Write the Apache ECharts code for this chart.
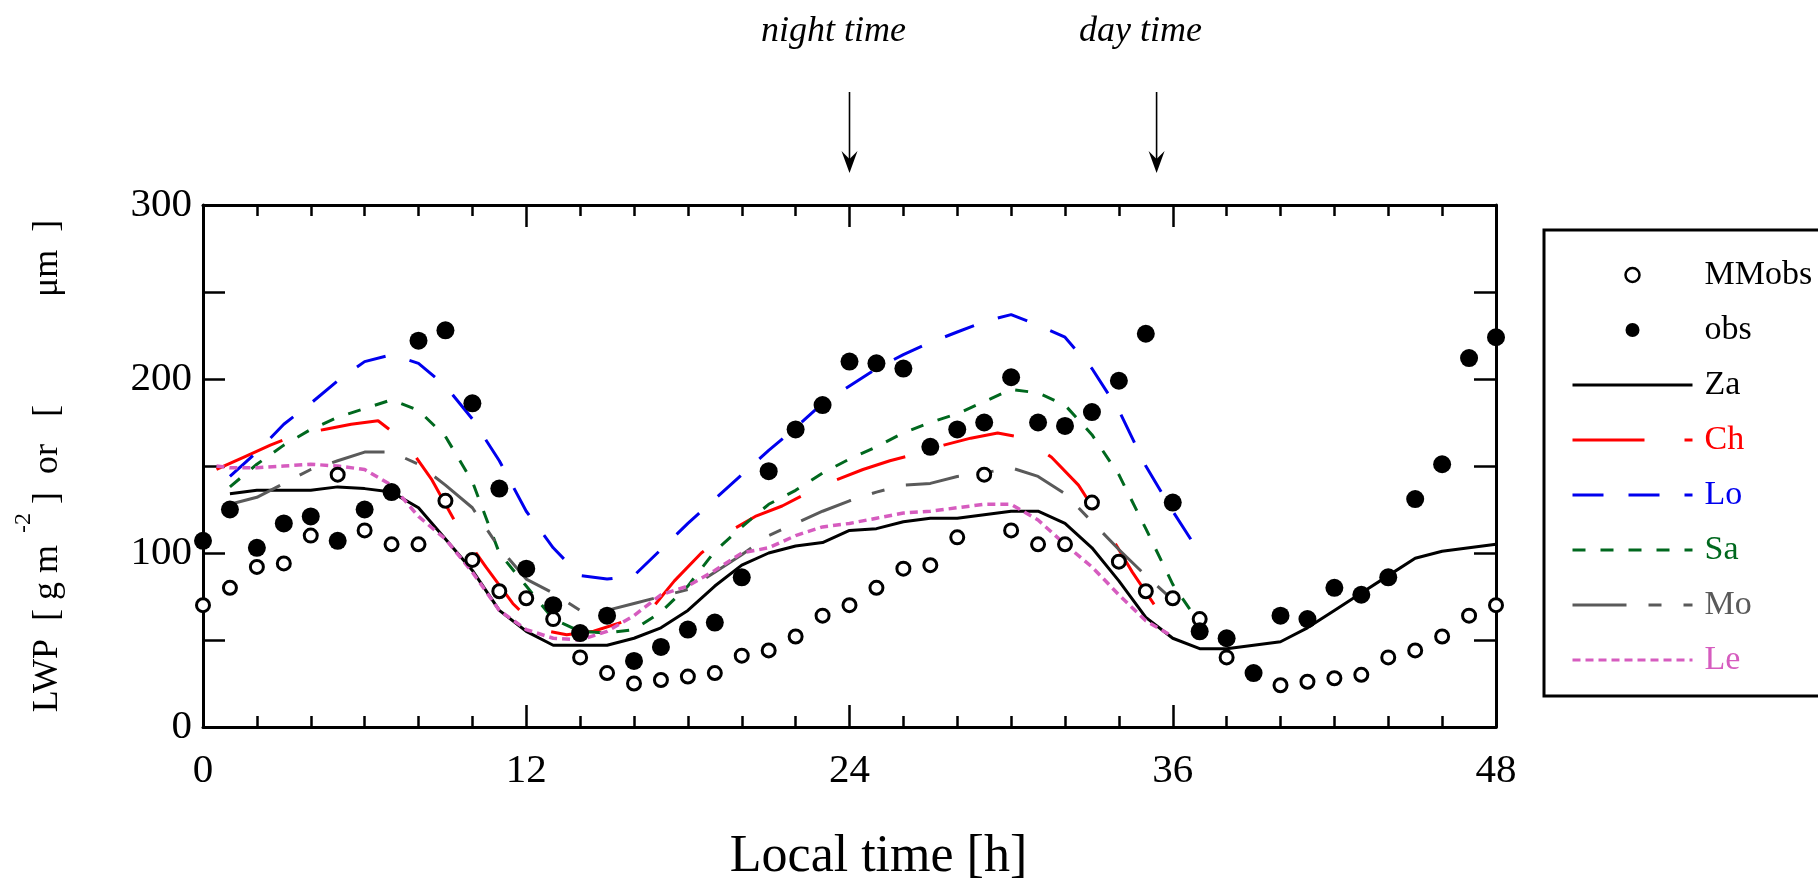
<!DOCTYPE html>
<html>
<head>
<meta charset="utf-8">
<title>LWP diurnal cycle</title>
<script src="https://cdn.jsdelivr.net/npm/echarts@6.0.0/dist/echarts.min.js"></script>
<style>
  html, body { margin: 0; padding: 0; background: #fff; }
  #chart { width: 1818px; height: 881px; }
</style>
</head>
<body>
<div id="chart"></div>
<script>
// observations, one value per hour 0..48
const hours = [0,1,2,3,4,5,6,7,8,9,10,11,12,13,14,15,16,17,18,19,20,21,22,23,24,
  25,26,27,28,29,30,31,32,33,34,35,36,37,38,39,40,41,42,43,44,45,46,47,48]
const mmobs = [70,80,92,94,110,145,113,105,105,130,96,78,74,62,40,31,25,27,29,31,
  41,44,52,64,70,80,91,93,109,145,113,105,105,129,95,78,74,62,40,31,24,26,28,30,40,44,52,64,70]
const obs = [107,125,103,117,121,107,125,135,222,228,186,137,91,70,54,64,38,46,56,60,
  86,147,171,185,210,209,206,161,171,175,201,175,173,181,199,226,129,55,51,31,64,62,80,76,86,131,151,212,224]

// model runs
const zaHours = [1,2,3,4,5,6,7,8,9,10,11,12,13,14,15,16,17,18,19,20,21,22,23,24,
  25,26,27,28,29,30,31,32,33,34,35,36,37,38,39,40,41,42,43,44,45,46,47,48]
const za = [134,136,136,136,138,137,135,126,108,90,67,55,47,47,47,51,57,67,81,93,
  100,104,106,113,114,118,120,120,122,124,124,117,103,84,63,51,45,45,47,49,57,67,77,87,97,101,103,105]

const chHours = [0.5,1.5,2.5,3.5,4.5,5.5,6.5,7.5,8.5,9.5,10.5,11.5,12.5,13.5,14.5,15.5,16.5,17.5,
  18.5,19.5,20.5,21.5,22.5,23.5,24.5,25.5,26.5,27.5,28.5,29.5,30.5,31.5,32.5,33.5,34.5,35.5]
const ch = [148,155,162,168,171,174,176,164,142,114,92,71,56,53,55,60,65,84,
  100,112,121,127,135,142,148,153,157,162,166,169,166,155,139,115,89,66]

const loHours = [1,2,3,4,5,6,7,8,9,10,11,12,13,14,15,16,17,18,19,20,21,22,23,24,
  25,26,27,28,29,30,31,32,33,34,35,36,37]
const lo = [144,158,174,186,199,210,214,209,196,177,153,124,103,87,85,87,102,117,131,145,
  159,172,186,196,206,214,221,227,233,237,231,224,206,182,150,124,100]

const saHours = [1,2,3,4,5,6,7,8,9,10,11,12,13,14,15,16,17,18,19,20,21,22,23,24,
  25,26,27,28,29,30,31,32,33,34,35,36,36.8]
const sa = [138,151,162,171,178,183,188,182,167,141,100,81,62,55,54,56,66,81,101,115,
  128,136,146,154,161,169,175,180,187,194,192,185,168,145,114,82,64]

const moHours = [1,2,3,4,5,6,7,8,9,10,11,12,13,14,15,16,17,18,19,20,21,22,23,24,
  25,26,27,28,29,30,31,32,33,34,35,36]
const mo = [128,132,140,148,153,158,158,151,139,126,103,85,77,67,67,71,75,79,89,99,
  110,117,124,130,135,139,140,144,146,149,144,134,118,102,87,73]

const leHours = [0.5,1,2,3,4,5,6,7,8,9,10,11,12,13,14,15,16,17,18,19,20,21,22,23,24,
  25,26,27,28,29,30,31,32,33,34,35,36]
const le = [150,149,149,150,151,150,148,139,121,108,89,67,56,51,50,55,64,76,81,90,100,
  103,110,115,117,120,123,124,126,128,128,119,105,92,76,61,52]

const arrowHours = [24, 35.4]
const arrowLabels = ['night time', 'day time']

const font = '"Liberation Serif", "Times New Roman", serif'
const colors = { Za: '#000000', Ch: '#ff0000', Lo: '#0000ee', Sa: '#00681e', Mo: '#5a5a5a', Le: '#d65cbf' }

const zip = (xs, ys) => xs.map((x, i) => [x, ys[i]])

function modelLine(name, xs, ys, dash, width) {
  return {
    name: name,
    type: 'line',
    data: zip(xs, ys),
    symbol: 'none',
    z: 2,
    lineStyle: { color: colors[name], width: width || 3, type: dash },
    itemStyle: { color: colors[name] }
  }
}

function frameAxis(extra) {
  return Object.assign({
    type: 'value',
    axisLine: { onZero: false, lineStyle: { color: '#000', width: 3 } },
    axisTick: { inside: true, length: 22, lineStyle: { color: '#000', width: 2.5 } },
    splitLine: { show: false },
    axisLabel: { show: false }
  }, extra)
}

// legend entry for a model line: coloured text, no marker dot on the line
const lineEntry = name => ({ name: name, textStyle: { color: colors[name] }, itemStyle: { opacity: 0 } })

const chart = echarts.init(document.getElementById('chart'))

const option = {
  animation: false,
  textStyle: { fontFamily: font, color: '#000' },
  grid: { left: 203, right: 322, top: 205, bottom: 154, outerBoundsMode: 'none' },
  xAxis: [
    frameAxis({
      min: 0, max: 48, interval: 12, position: 'bottom',
      minorTick: { show: true, splitNumber: 6, length: 11, lineStyle: { color: '#000', width: 2.5 } },
      axisLabel: { show: true, fontFamily: font, fontSize: 41, color: '#000', margin: 24 },
      name: 'Local time [h]',
      nameLocation: 'middle',
      nameGap: 104,
      nameTextStyle: { fontFamily: font, fontSize: 52, color: '#000', padding: [0, 0, 0, 58] }
    }),
    frameAxis({
      min: 0, max: 48, interval: 12, position: 'top',
      minorTick: { show: true, splitNumber: 6, length: 11, lineStyle: { color: '#000', width: 2.5 } }
    })
  ],
  yAxis: [
    frameAxis({
      min: 0, max: 300, interval: 50, position: 'left',
      axisLabel: {
        show: true, fontFamily: font, fontSize: 41, color: '#000', margin: 11,
        formatter: v => (v % 100 === 0 ? String(v) : '')
      },
      name: '{a|LWP  [ g m}{s|  -2}{a| ]  or   [            μm  ]}',
      nameLocation: 'middle',
      nameRotate: 90,
      nameGap: 119,
      nameTextStyle: {
        rich: {
          a: { fontFamily: font, fontSize: 36, lineHeight: 72, color: '#000' },
          s: { fontFamily: font, fontSize: 24, lineHeight: 24, verticalAlign: 'top', color: '#000' }
        }
      }
    }),
    frameAxis({ min: 0, max: 300, interval: 50, position: 'right' })
  ],
  legend: {
    orient: 'vertical',
    left: 1571,
    top: 258,
    padding: 0,
    itemWidth: 120,
    itemHeight: 14,
    itemGap: 21,
    selectedMode: false,
    textStyle: { fontFamily: font, fontSize: 34, color: '#000', padding: [0, 0, 0, 7] },
    lineStyle: { width: 3 },
    data: [
      { name: 'MMobs', itemStyle: { color: '#fff', borderColor: '#000', borderWidth: 2.5, opacity: 1 } },
      { name: 'obs', itemStyle: { color: '#000', opacity: 1 } },
      lineEntry('Za'),
      lineEntry('Ch'),
      lineEntry('Lo'),
      lineEntry('Sa'),
      lineEntry('Mo'),
      lineEntry('Le')
    ]
  },
  series: [
    modelLine('Za', zaHours, za, 'solid'),
    modelLine('Ch', chHours, ch, [72, 40]),
    modelLine('Lo', loHours, lo, [31, 25]),
    modelLine('Sa', saHours, sa, [13, 15]),
    modelLine('Mo', moHours, mo, [54, 22, 13, 22]),
    modelLine('Le', leHours, le, [8, 5], 3.5),
    {
      name: 'MMobs', type: 'scatter', data: zip(hours, mmobs), clip: false, z: 3,
      symbol: 'circle', symbolSize: 13,
      itemStyle: { color: '#fff', borderColor: '#000', borderWidth: 3, opacity: 1 }
    },
    {
      name: 'obs', type: 'scatter', data: zip(hours, obs), clip: false, z: 4,
      symbol: 'circle', symbolSize: 18,
      itemStyle: { color: '#000', opacity: 1 }
    }
  ]
}

chart.setOption(option)

// arrows and labels above the frame, placed with the x axis scale
const graphics = []
arrowHours.forEach((h, i) => {
  const x = chart.convertToPixel({ xAxisIndex: 0 }, h)
  graphics.push({ type: 'line', shape: { x1: x, y1: 92, x2: x, y2: 162 }, style: { stroke: '#000', lineWidth: 1.6 } })
  graphics.push({
    type: 'polygon',
    shape: { points: [[x - 8, 151], [x, 159], [x + 8, 151], [x, 173]] },
    style: { fill: '#000' }
  })
  graphics.push({
    type: 'text', x: x - 16, y: 32,
    style: {
      text: arrowLabels[i], font: 'italic 36px ' + font, fill: '#000',
      align: 'center', verticalAlign: 'middle', textAlign: 'center', textVerticalAlign: 'middle'
    }
  })
})
// legend frame, running off the right edge
graphics.push({
  type: 'rect', z: 0,
  shape: { x: 1544, y: 230, width: 300, height: 466 },
  style: { fill: 'none', stroke: '#000', lineWidth: 3 }
})
chart.setOption({ graphic: graphics })
</script>
</body>
</html>
